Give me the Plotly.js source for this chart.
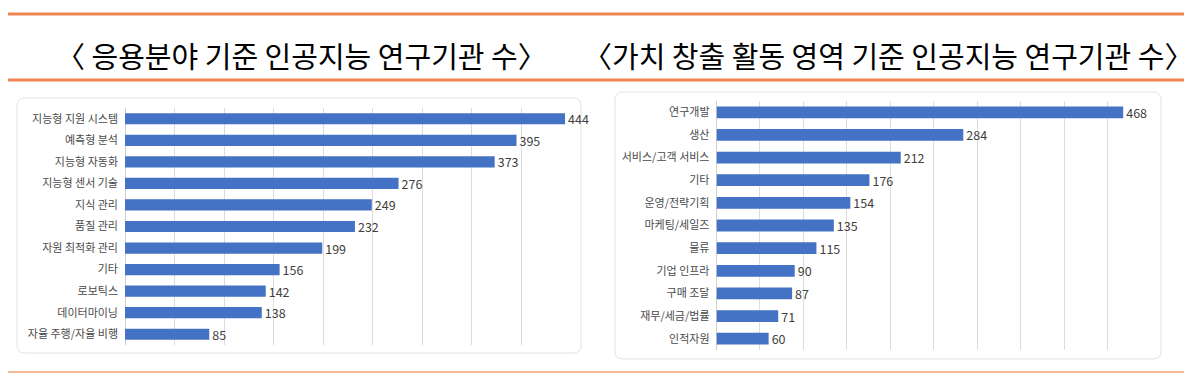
<!DOCTYPE html>
<html><head><meta charset="utf-8">
<script src="https://cdn.plot.ly/plotly-3.0.1.min.js"></script>
<style>html,body{margin:0;padding:0;background:#fff;}#chart{width:1197px;height:386px;}</style>
</head><body><div id="chart"></div>
<script>
// ---- data ----
const leftTitle = '〈 응용분야 기준 인공지능 연구기관 수〉';
const rightTitle = '〈가치 창출 활동 영역 기준 인공지능 연구기관 수〉';
const leftCategories = ['지능형 지원 시스템','예측형 분석','지능형 자동화','지능형 센서 기술','지식 관리','품질 관리','자원 최적화 관리','기타','로보틱스','데이터마이닝','자율 주행/자율 비행'];
const leftValues = [444,395,373,276,249,232,199,156,142,138,85];
const rightCategories = ['연구개발','생산','서비스/고객 서비스','기타','운영/전략기획','마케팅/세일즈','물류','기업 인프라','구매 조달','재무/세금/법률','인적자원'];
const rightValues = [468,284,212,176,154,135,115,90,87,71,60];

// ---- layout helpers ----
const W = 1197, H = 386;
const px = x => x / W;
const py = y => 1 - y / H;
const barColor = '#4472C4';
const orange = '#EE8552';
const labelFont = {family: 'Liberation Sans Narrow, Noto Sans CJK KR, sans-serif', size: 12.5, color: '#404040'};
const catFont = {family: 'Noto Sans CJK KR, sans-serif', size: 11, color: '#4a4a4a'};
const titleFont = {family: 'Noto Sans CJK KR, sans-serif', size: 29, color: '#000'};

function roundRect(x0, y0, x1, y1, r) {
  const X = v => px(v).toFixed(5), Y = v => py(v).toFixed(5);
  return `M${X(x0+r)},${Y(y0)} L${X(x1-r)},${Y(y0)} Q${X(x1)},${Y(y0)} ${X(x1)},${Y(y0+r)} ` +
         `L${X(x1)},${Y(y1-r)} Q${X(x1)},${Y(y1)} ${X(x1-r)},${Y(y1)} L${X(x0+r)},${Y(y1)} ` +
         `Q${X(x0)},${Y(y1)} ${X(x0)},${Y(y1-r)} L${X(x0)},${Y(y0+r)} Q${X(x0)},${Y(y0)} ${X(x0+r)},${Y(y0)} Z`;
}

const traces = [
  {type:'bar', orientation:'h', x:leftValues, y:leftCategories, xaxis:'x', yaxis:'y',
   marker:{color:barColor}, width:0.52, text:leftValues.map(String), textposition:'outside',
   textfont:labelFont, cliponaxis:false, constraintext:'none', hoverinfo:'x+y'},
  {type:'bar', orientation:'h', x:rightValues, y:rightCategories, xaxis:'x2', yaxis:'y2',
   marker:{color:barColor}, width:0.52, text:rightValues.map(String), textposition:'outside',
   textfont:labelFont, cliponaxis:false, constraintext:'none', hoverinfo:'x+y'}
];

const xCommon = {showticklabels:false, ticks:'', showgrid:true, gridcolor:'#dcdcdc', gridwidth:1,
  zeroline:true, zerolinecolor:'#d0d0d0', zerolinewidth:1, showline:false, dtick:50, fixedrange:true};
const yCommon = {autorange:'reversed', ticks:'', showgrid:false, zeroline:false, showline:false,
  tickfont:catFont, ticklabelstandoff:6, fixedrange:true, type:'category'};

const layout = {
  width: W, height: H, margin:{l:0,r:0,t:0,b:0}, paper_bgcolor:'#fff', plot_bgcolor:'rgba(0,0,0,0)',
  showlegend:false, font:{family:'Noto Sans CJK KR, sans-serif'},
  xaxis: Object.assign({}, xCommon, {domain:[px(125), px(571)], range:[0,450], anchor:'y'}),
  yaxis: Object.assign({}, yCommon, {domain:[py(345), py(108)], anchor:'x'}),
  xaxis2: Object.assign({}, xCommon, {domain:[px(716.5), px(1151)], range:[0,500], anchor:'y2'}),
  yaxis2: Object.assign({}, yCommon, {domain:[py(350), py(101)], anchor:'x2'}),
  shapes: [
    {type:'line', xref:'paper', yref:'paper', x0:px(8), x1:px(1184), y0:py(14), y1:py(14), line:{color:orange, width:3}},
    {type:'line', xref:'paper', yref:'paper', x0:px(8), x1:px(1184), y0:py(80), y1:py(80), line:{color:orange, width:3}},
    {type:'line', xref:'paper', yref:'paper', x0:px(8), x1:px(1184), y0:py(372), y1:py(372), line:{color:'#F4A57A', width:1.5}},
    {type:'path', xref:'paper', yref:'paper', layer:'below', path:roundRect(17, 98, 581, 353, 8), line:{color:'#e2e2e2', width:1}, fillcolor:'#fff'},
    {type:'path', xref:'paper', yref:'paper', layer:'below', path:roundRect(615, 92, 1161, 359, 8), line:{color:'#e2e2e2', width:1}, fillcolor:'#fff'}
  ],
  annotations: [
    {xref:'paper', yref:'paper', x:px(301), y:py(55), text:leftTitle, showarrow:false, xanchor:'center', yanchor:'middle', font:titleFont},
    {xref:'paper', yref:'paper', x:px(888), y:py(55), text:rightTitle, showarrow:false, xanchor:'center', yanchor:'middle', font:titleFont}
  ]
};

Plotly.newPlot('chart', traces, layout, {staticPlot:true, displayModeBar:false});
</script></body></html>
